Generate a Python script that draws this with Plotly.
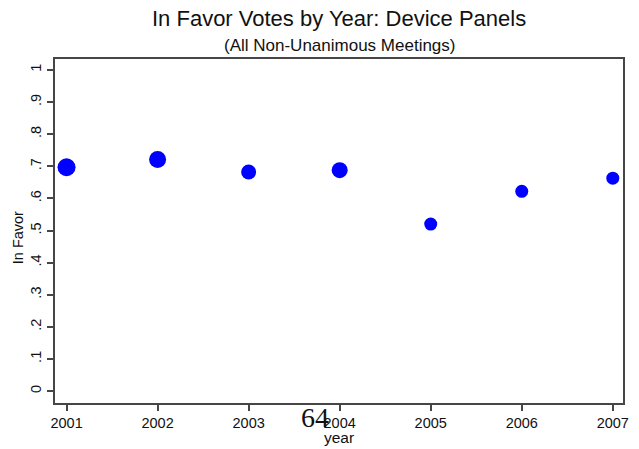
import plotly.graph_objects as go

# Share of in-favor votes per year, device panels (non-unanimous meetings)
years = [2001, 2002, 2003, 2004, 2005, 2006, 2007]
in_favor = [0.697, 0.721, 0.682, 0.688, 0.520, 0.622, 0.663]
marker_diam = [18, 17, 15, 16, 13, 13, 13]

y_ticks = [0, 0.1, 0.2, 0.3, 0.4, 0.5, 0.6, 0.7, 0.8, 0.9, 1]
y_tick_text = ["0", ".1", ".2", ".3", ".4", ".5", ".6", ".7", ".8", ".9", "1"]

font_family = "Liberation Sans, Arial, Helvetica, sans-serif"
line_col = "rgb(70,70,70)"

fig = go.Figure(
    go.Scatter(
        x=years,
        y=in_favor,
        mode="markers",
        marker=dict(color="#0000FF", size=marker_diam, opacity=1, line=dict(width=0)),
        cliponaxis=False,
        showlegend=False,
    )
)

axis_common = dict(
    showline=True,
    linecolor=line_col,
    linewidth=1.5,
    mirror=True,
    ticks="outside",
    ticklen=6,
    tickwidth=1.5,
    tickcolor=line_col,
    showgrid=False,
    zeroline=False,
    tickfont=dict(family=font_family, size=14.5, color="#111"),
)

fig.update_xaxes(
    range=[2000.873, 2007.112],
    tickvals=years,
    ticktext=[str(y) for y in years],
    **axis_common,
)
fig.update_yaxes(
    range=[-0.037, 1.034],
    tickvals=y_ticks,
    ticktext=y_tick_text,
    tickangle=-90,
    **axis_common,
)

annotations = [
    dict(text="In Favor Votes by Year: Device Panels", x=0.5, y=1.119,
         font=dict(size=22, family=font_family, color="#111")),
    dict(text="(All Non-Unanimous Meetings)", x=0.5, y=1.038,
         font=dict(size=17, family=font_family, color="#111")),
    dict(text="year", x=0.5, y=-0.099,
         font=dict(size=15.5, family=font_family, color="#111")),
    dict(text="In Favor", x=-0.0645, y=0.48, textangle=-90,
         font=dict(size=14.5, family=font_family, color="#111")),
    dict(text="64", x=0.458, y=-0.041,
         font=dict(size=28, family="Liberation Serif, Times New Roman, serif", color="#111")),
]
for a in annotations:
    a.update(xref="paper", yref="paper", showarrow=False,
             xanchor="center", yanchor="middle")

fig.update_layout(
    width=639,
    height=449,
    margin=dict(l=55, r=10, t=59, b=46),
    paper_bgcolor="white",
    plot_bgcolor="white",
    annotations=annotations,
)

fig.write_html("out.html")
